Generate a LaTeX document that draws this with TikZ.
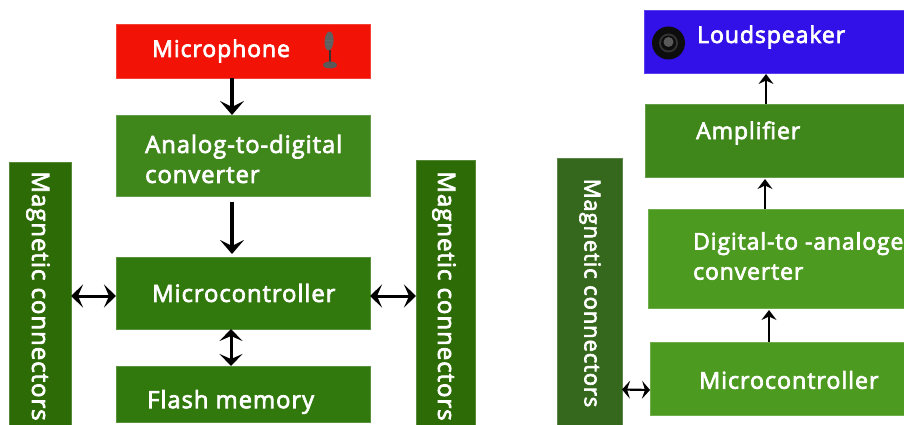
\documentclass[tikz,border=0pt]{standalone}
\usepackage{fontspec}
\setmainfont{Open Sans}[LetterSpace=4,FakeBold=3]
\usetikzlibrary{arrows.meta,positioning,calc}
\definecolor{micred}{HTML}{F31206}
\definecolor{adcgreen}{HTML}{3F861B}
\definecolor{mcugreen}{HTML}{31780D}
\definecolor{maggreen}{HTML}{2D6B06}
\definecolor{maggreenb}{HTML}{35681C}
\definecolor{litegreen}{HTML}{4C9A20}
\definecolor{spkblue}{HTML}{3210E8}
\tikzset{
  blockbox/.style={anchor=north west,inner sep=0pt,outer sep=0pt,draw=#1!80!white,line width=0.6pt,fill=#1},
  boxtext/.style={anchor=west,text=white,inner sep=0pt,font=\fontsize{#1}{30}\selectfont,align=left},
  magtext/.style={rotate=-90,text=white,inner sep=0pt,font=\fontsize{#1}{#1}\selectfont},
  heavy/.style={line width=3.4pt,-{Stealth[length=14pt,width=24pt,inset=6pt]}},
  heavyboth/.style={line width=3pt,{Stealth[length=12pt,width=23pt,inset=5pt]}-{Stealth[length=12pt,width=23pt,inset=5pt]}},
  thin arrow/.style={line width=1.7pt,-{Stealth[length=10pt,width=15pt,inset=3.5pt]}},
  thin both/.style={line width=2.2pt,{Stealth[length=8pt,width=18pt,inset=3pt]}-{Stealth[length=8pt,width=18pt,inset=3pt]}},
}
\begin{document}
\begin{tikzpicture}[x=1pt,y=-1pt]
\useasboundingbox (0,0) rectangle (904,425);
% left column
\node[blockbox=micred,minimum width=254pt,minimum height=54pt] (mic) at (116,24) {};
\node[blockbox=adcgreen,minimum width=254pt,minimum height=81pt] (adc) at (116,115) {};
\node[blockbox=mcugreen,minimum width=254pt,minimum height=72pt] (mcu) at (116,257) {};
\node[blockbox=mcugreen,minimum width=254pt,minimum height=56pt] (flash) at (116,366) {};
\node[blockbox=maggreen,minimum width=62pt,minimum height=263pt] (magl) at (9,162) {};
\node[blockbox=maggreen,minimum width=59pt,minimum height=265pt] (magr) at (416,160) {};
% right column
\node[blockbox=maggreenb,minimum width=65pt,minimum height=267pt] (magb) at (557,158) {};
\node[blockbox=spkblue,minimum width=260pt,minimum height=63pt] (spk) at (644,10) {};
\node[blockbox=adcgreen,minimum width=259pt,minimum height=73pt] (amp) at (645,104) {};
\node[blockbox=litegreen,minimum width=256pt,minimum height=99pt] (dac) at (648,209) {};
\node[blockbox=litegreen,minimum width=254pt,minimum height=73pt] (mcub) at (650,342) {};
% labels
\node[boxtext=23] (tmic) at (152,51) {Microphone};
\node[boxtext=23.8] (tadc) at (145,159) {Analog-to-digital\\converter};
\node[boxtext=23.8] (tmcu) at (152,293) {Microcontroller};
\node[boxtext=23.8] (tflash) at (147,402) {Flash memory};
\node[magtext=24] (tmagl) at (38,296) {Magnetic connectors};
\node[magtext=24] (tmagr) at (444,296) {Magnetic connectors};
\node[magtext=22] (tmagb) at (590,293) {Magnetic connectors};
\node[boxtext=23] (tspk) at (697,37) {Loudspeaker};
\node[boxtext=23] (tamp) at (696,133) {Amplifier};
\node[boxtext=22.9] (tdac) at (693,256) {Digital-to -analoge\\converter};
\node[boxtext=23.3] (tmcub) at (699,380) {Microcontroller};
% connectors
\draw[heavy] ([xshift=-11pt]mic.south) -- ([xshift=-11pt]adc.north);
\draw[heavy,shorten <=6pt,shorten >=3pt] ([xshift=-11pt]adc.south) -- ([xshift=-11pt]mcu.north);
\draw[heavyboth] ([xshift=-12pt]mcu.south) -- ([xshift=-12pt]flash.north);
\draw[heavyboth] ($(magl.east)+(0,2.5)$) -- (mcu.west |- 0,296);
\draw[heavyboth] ($(mcu.east)+(0,3)$) -- (magr.west |- 0,296);
\draw[thin arrow] ($(amp.north west)+(121,0)$) -- ($(spk.south west)+(122,1)$);
\draw[thin arrow] ($(dac.north west)+(117,0)$) -- ($(amp.south west)+(120,2)$);
\draw[thin arrow] ($(mcub.north west)+(119,0)$) -- ($(dac.south west)+(121,2)$);
\draw[thin both] ($(magb.east)+(0,98)$) -- (mcub.west |- 0,390);
% microphone icon
\fill[gray!75!black,rotate around={-4:(329,42)}] (329,41) ellipse (4.5pt and 9.5pt);
\draw[black!60,line width=0.5pt] (325,40) -- (333,40) (325,44) -- (333,44);
\draw[gray!40!black,line width=1.2pt] (330,50) -- (330,63);
\fill[black!65] (330,65) ellipse (7pt and 3.5pt);
% loudspeaker icon
\fill[black!95] (668.5,43) circle (16.5pt);
\fill[black!80] (668.5,43) circle (9.5pt);
\fill[black!95] (668.5,43) circle (7.5pt);
\fill[black!65] (668.5,42) circle (5pt);
\end{tikzpicture}
\end{document}
